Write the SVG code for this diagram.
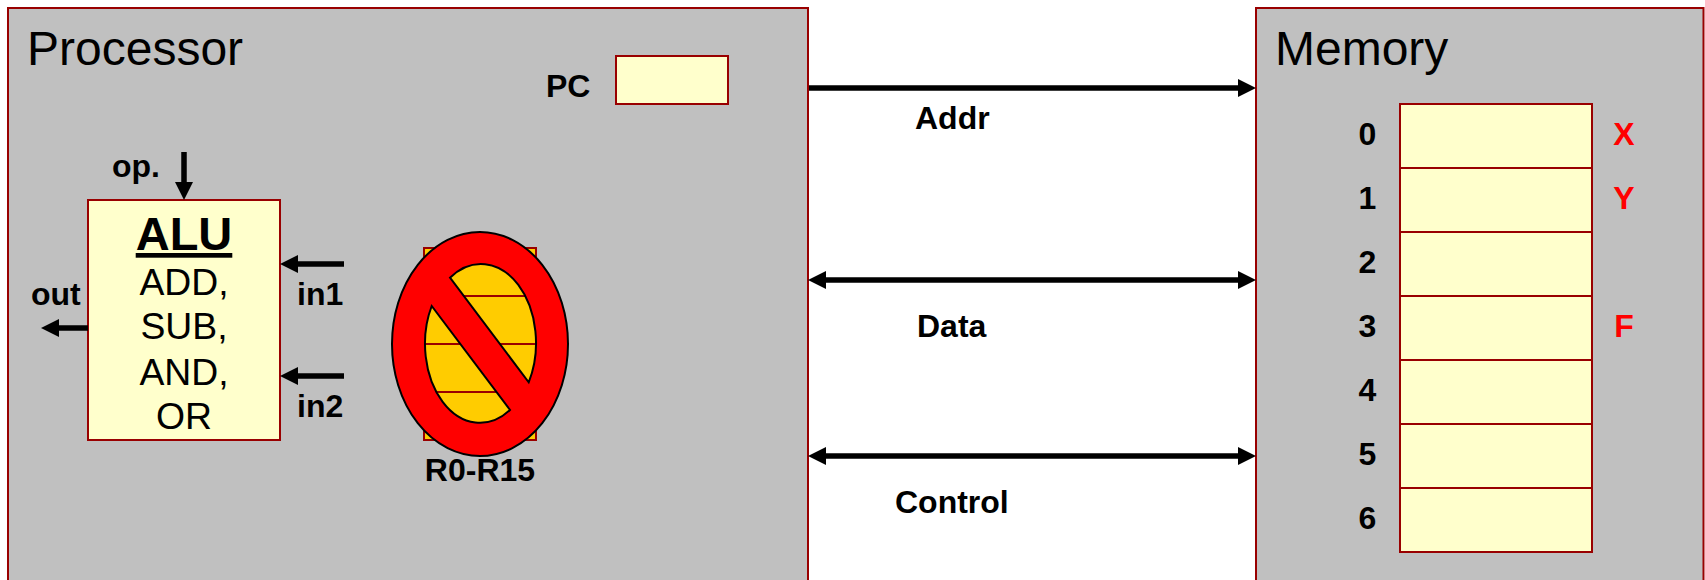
<svg xmlns="http://www.w3.org/2000/svg" width="1705" height="580" viewBox="0 0 1705 580">
<style>
text{font-family:"Liberation Sans",Arial,sans-serif;fill:#000}
.panel{fill:#c0c0c0;stroke:#990000;stroke-width:2}
.cell{fill:#ffffcc;stroke:#990000;stroke-width:2}
.reg{fill:#ffcc00;stroke:#990000;stroke-width:2}
.title{font-size:48px}
.b{font-size:32px;font-weight:bold}
.op{font-size:37.330px;text-anchor:middle}
.m{text-anchor:middle}
.red{fill:#ff0000}
.wire{stroke:#000;stroke-width:5.500;fill:none;marker-end:url(#head)}
.both{marker-start:url(#head)}
</style>
<defs>
<marker id="head" markerUnits="userSpaceOnUse" markerWidth="18" markerHeight="18" viewBox="0 0 18 18" refX="2" refY="9" orient="auto-start-reverse"><path d="M0 0L18 9L0 18Z" fill="#000"/></marker>
</defs>
<g id="processor"><rect class="panel" x="8" y="8" width="800" height="600"/><text class="title" x="27" y="65">Processor</text></g>
<g id="memory"><rect class="panel" x="1256" y="8" width="447.500" height="600"/><text class="title" x="1275" y="65">Memory</text></g>
<g id="pc"><rect class="cell" x="616" y="56" width="112" height="48"/><text class="b" x="546" y="97">PC</text></g>
<g id="alu"><rect class="cell" x="88" y="200" width="192" height="240"/>
<text x="184" y="250" font-size="47" font-weight="bold" text-anchor="middle" text-decoration="underline">ALU</text>
<text class="op" x="184" y="295">ADD,</text><text class="op" x="184" y="339">SUB,</text><text class="op" x="184" y="385">AND,</text><text class="op" x="184" y="429">OR</text></g>
<g id="registers"><rect class="reg" x="424" y="248" width="112" height="192"/>
<path d="M424 296H536M424 344H536M424 392H536" stroke="#990000" stroke-width="2" fill="none"/>
<path fill="#ff0000" fill-rule="evenodd" stroke="#000" stroke-width="2" d="M392 344A88 112 0 1 1 568 344A88 112 0 1 1 392 344ZM450 277.700A55 79 0 0 1 528.700 382.300ZM510 410A55 79 0 0 1 431.700 306Z"/>
<text class="b m" x="480" y="481">R0-R15</text></g>
<g id="memory-cells">
<rect class="cell" x="1400" y="104" width="192" height="64"/><rect class="cell" x="1400" y="168" width="192" height="64"/><rect class="cell" x="1400" y="232" width="192" height="64"/><rect class="cell" x="1400" y="296" width="192" height="64"/><rect class="cell" x="1400" y="360" width="192" height="64"/><rect class="cell" x="1400" y="424" width="192" height="64"/><rect class="cell" x="1400" y="488" width="192" height="64"/>
<text class="b m" x="1367.500" y="145">0</text><text class="b m" x="1367.500" y="209">1</text><text class="b m" x="1367.500" y="273">2</text><text class="b m" x="1367.500" y="337">3</text><text class="b m" x="1367.500" y="401">4</text><text class="b m" x="1367.500" y="465">5</text><text class="b m" x="1367.500" y="529">6</text>
<text class="b m red" x="1624" y="145">X</text><text class="b m red" x="1624" y="209">Y</text><text class="b m red" x="1624" y="337">F</text></g>
<g id="connectors">
<line class="wire" x1="184" y1="152" x2="184" y2="184"/>
<line class="wire" x1="344" y1="264" x2="296" y2="264"/>
<line class="wire" x1="344" y1="376" x2="296" y2="376"/>
<line class="wire" x1="88" y1="328" x2="57" y2="328"/>
<line class="wire" x1="809" y1="88" x2="1240" y2="88"/>
<line class="wire both" x1="824" y1="280" x2="1240" y2="280"/>
<line class="wire both" x1="824" y1="456" x2="1240" y2="456"/>
</g>
<g id="labels">
<text class="b" x="112" y="177">op.</text><text class="b" x="31" y="305">out</text><text class="b" x="297" y="305">in1</text><text class="b" x="297" y="417">in2</text>
<text class="b" x="915" y="129">Addr</text><text class="b" x="917" y="337">Data</text><text class="b" x="895" y="513">Control</text>
</g>
</svg>
